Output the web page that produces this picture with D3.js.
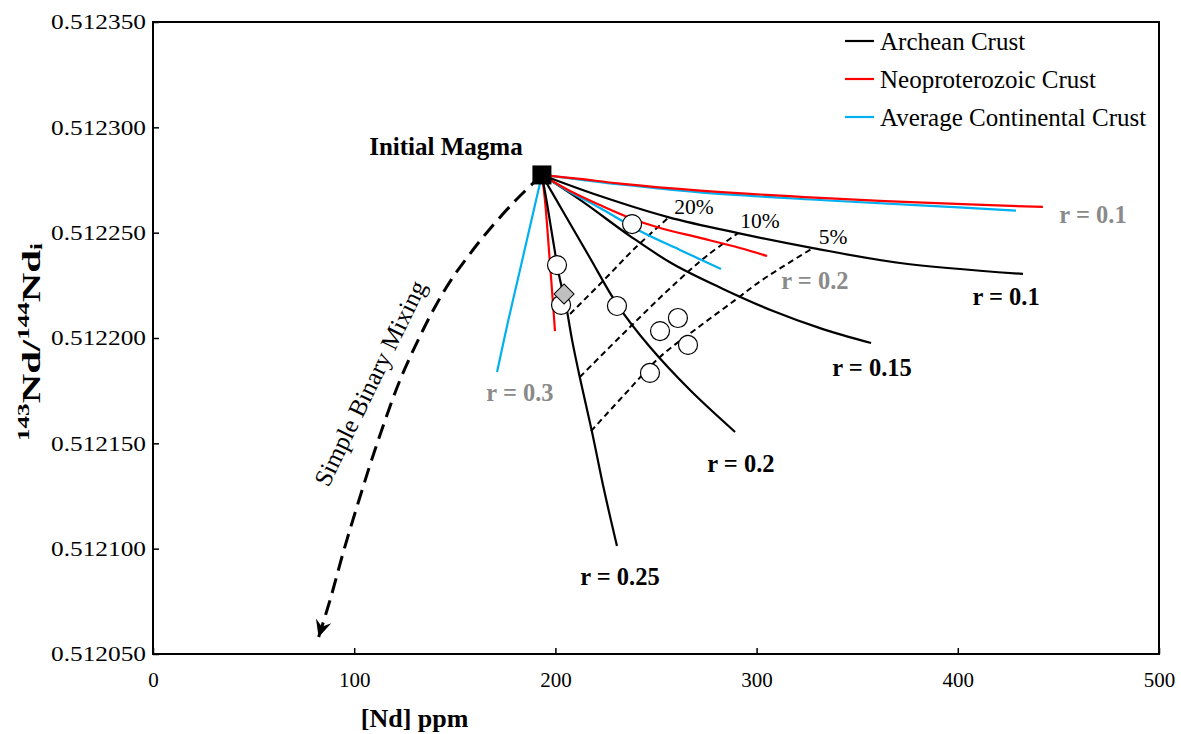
<!DOCTYPE html>
<html>
<head>
<meta charset="utf-8">
<script src="https://cdn.jsdelivr.net/npm/d3@7"></script>
<style>
  body { margin: 0; background: #fff; }
  text { font-family: "Liberation Serif", "Times New Roman", serif; }
</style>
</head>
<body>
<svg id="chart" width="1181" height="734"></svg>
<script>
// ---- axis ticks ----
const xTicks = [0, 100, 200, 300, 400, 500];
const yTicks = [0.51205, 0.5121, 0.51215, 0.5122, 0.51225, 0.5123, 0.51235];

// ---- starting composition ([Nd] ppm, 143Nd/144Nd) ----
const initialMagma = [193.3, 0.5122774];

// ---- AFC trajectories, Archean crust contaminant ----
const archeanR01 = [[193.3,0.5122774],[222.2,0.5122674],[256.0,0.5122574],[290.8,0.5122498],[328.0,0.5122427],[371.3,0.5122356],[432.4,0.5122304]];
const archeanR015 = [[193.3,0.5122774],[213.7,0.5122646],[237.1,0.5122484],[258.4,0.5122351],[283.3,0.5122233],[308.2,0.5122128],[331.5,0.5122047],[356.9,0.5121976]];
const archeanR02 = [[193.3,0.5122774],[204.8,0.5122584],[217.2,0.5122380],[230.6,0.5122161],[247.0,0.5121957],[266.9,0.5121753],[289.3,0.5121554]];
const archeanR025 = [[193.3,0.5122774],[195.8,0.5122641],[198.8,0.5122465],[201.8,0.5122299],[205.3,0.5122152],[208.3,0.5121990],[212.2,0.5121810],[218.2,0.5121554],[224.2,0.5121278],[230.6,0.5121013]];

// ---- AFC trajectories, Neoproterozoic crust contaminant ----
const neoR01 = [[193.3,0.5122774],[212.2,0.5122755],[232.1,0.5122733],[271.9,0.5122700],[331.5,0.5122665],[386.2,0.5122641],[442.3,0.5122622]];
const neoR02 = [[193.3,0.5122774],[207.3,0.5122698],[222.2,0.5122631],[237.1,0.5122570],[252.0,0.5122522],[271.9,0.5122475],[291.7,0.5122427],[305.2,0.5122389]];
const neoR03 = [[193.3,0.5122774],[194.8,0.5122655],[196.8,0.5122418],[198.3,0.5122228],[199.8,0.5122033]];

// ---- AFC trajectories, average continental crust contaminant ----
const avgR01 = [[193.3,0.5122774],[212.2,0.5122752],[232.1,0.5122729],[271.9,0.5122691],[331.5,0.5122655],[386.2,0.5122627],[428.9,0.5122605]];
const avgR02 = [[193.3,0.5122774],[207.3,0.5122693],[222.2,0.5122617],[242.0,0.5122508],[261.9,0.5122418],[282.3,0.5122328]];
const avgR03 = [[193.3,0.5122774],[187.9,0.5122551],[182.4,0.5122323],[176.4,0.5122076],[171.0,0.5121839]];

// ---- melt-fraction isopleths ----
const melt20 = [[207.3,0.5122114],[223.7,0.5122271],[239.6,0.5122427],[256.0,0.5122570]];
const melt10 = [[212.2,0.5121815],[236.1,0.5122043],[260.9,0.5122271],[275.8,0.5122394],[290.8,0.5122498]];
const melt5 = [[217.7,0.5121558],[234.6,0.5121734],[252.0,0.5121910],[271.9,0.5122057],[289.3,0.5122180],[302.7,0.5122275],[328.0,0.5122427]];

// ---- simple binary mixing trend ----
const mixing = [[193.3,0.5122774],[180.4,0.5122655],[167.0,0.5122513],[157.1,0.5122394],[148.1,0.5122275],[140.7,0.5122157],[134.2,0.5122038],[122.8,0.5121801],[110.3,0.5121468],[102.4,0.5121231],[94.9,0.5120994],[88.0,0.5120756],[82.3,0.5120580]];

// ---- measured samples ----
const samples = [[238.1,0.5122541],[200.8,0.5122346],[202.8,0.5122157],[230.6,0.5122152],[252.0,0.5122033],[260.9,0.5122095],[265.9,0.5121967],[247.0,0.5121834]];
const diamondSample = [204.3, 0.5122209];

// ---- legend entries ----
const legendNames = ["Archean Crust", "Neoproterozoic Crust", "Average Continental Crust"];
const legendColors = ["#000000", "#ff0000", "#00b0f0"];

const svg = d3.select("#chart");
const W = 1181, H = 734;
const margin = { left: 153, right: 22, top: 22, bottom: 80 };

const x = d3.scaleLinear().domain([0, 500]).range([margin.left, W - margin.right]);
const y = d3.scaleLinear().domain([0.51205, 0.51235]).range([H - margin.bottom, margin.top]);

svg.append("rect").attr("width", W).attr("height", H).attr("fill", "#fff");

const line = d3.line().x(d => x(d[0])).y(d => y(d[1])).curve(d3.curveCatmullRom.alpha(0.5));

// axes with inward ticks
const xAxis = svg.append("g")
  .attr("transform", `translate(0,${y(0.51205)})`)
  .call(d3.axisBottom(x).tickValues(xTicks).tickFormat(d3.format("d")).tickSizeInner(-6).tickSizeOuter(0).tickPadding(18));
const yAxis = svg.append("g")
  .attr("transform", `translate(${x(0)},0)`)
  .call(d3.axisLeft(y).tickValues(yTicks).tickFormat(d3.format(".6f")).tickSizeInner(-6).tickSizeOuter(0).tickPadding(7));
[xAxis, yAxis].forEach(g => {
  g.select(".domain").remove();
  g.selectAll(".tick line").attr("stroke", "#000").attr("stroke-width", 1.5);
  g.selectAll(".tick text").attr("font-family", "Liberation Serif").attr("font-size", 21).attr("fill", "#000");
});
yAxis.selectAll(".tick text").attr("textLength", 95).attr("lengthAdjust", "spacingAndGlyphs");

// plot frame
svg.append("rect")
  .attr("x", x(0)).attr("y", y(0.51235))
  .attr("width", x(500) - x(0)).attr("height", y(0.51205) - y(0.51235))
  .attr("fill", "none").attr("stroke", "#000").attr("stroke-width", 2);

// binary mixing trend with arrowhead
svg.append("path").datum(mixing)
  .attr("d", line).attr("fill", "none").attr("stroke", "#000")
  .attr("stroke-width", 3).attr("stroke-dasharray", "15,8");
{
  const n = mixing.length;
  const tip = [x(mixing[n - 1][0]), y(mixing[n - 1][1])];
  const prev = [x(mixing[n - 2][0]), y(mixing[n - 2][1])];
  const ang = Math.atan2(tip[1] - prev[1], tip[0] - prev[0]) * 180 / Math.PI;
  svg.append("path")
    .attr("d", "M0,0 L-17,-8 L-11,0 L-17,8 Z")
    .attr("transform", `translate(${tip[0]},${tip[1]}) rotate(${ang})`)
    .attr("fill", "#000");
}

// melt fraction isopleths
[melt20, melt10, melt5].forEach(d => {
  svg.append("path").datum(d).attr("d", line)
    .attr("fill", "none").attr("stroke", "#000").attr("stroke-width", 2)
    .attr("stroke-dasharray", "6,4");
});

// AFC curves
const curves = [
  [avgR03, legendColors[2]], [neoR03, legendColors[1]],
  [archeanR025, legendColors[0]], [archeanR02, legendColors[0]], [archeanR015, legendColors[0]],
  [avgR02, legendColors[2]], [neoR02, legendColors[1]], [archeanR01, legendColors[0]],
  [avgR01, legendColors[2]], [neoR01, legendColors[1]]
];
curves.forEach(([d, c]) => {
  svg.append("path").datum(d).attr("d", line)
    .attr("fill", "none").attr("stroke", c).attr("stroke-width", 2.2);
});

// samples
svg.append("g").selectAll("circle").data(samples).join("circle")
  .attr("cx", d => x(d[0])).attr("cy", d => y(d[1])).attr("r", 9.5)
  .attr("fill", "#fff").attr("stroke", "#000").attr("stroke-width", 1.2);
svg.append("path")
  .attr("d", d3.symbol(d3.symbolSquare, 200)())
  .attr("transform", `translate(${x(diamondSample[0])},${y(diamondSample[1])}) rotate(45)`)
  .attr("fill", "#bfbfbf").attr("stroke", "#000").attr("stroke-width", 1);

// initial magma
svg.append("rect")
  .attr("x", x(initialMagma[0]) - 9.5).attr("y", y(initialMagma[1]) - 9.5)
  .attr("width", 19).attr("height", 19).attr("fill", "#000");

// annotations
const ann = (t, px, py, opts = {}) => svg.append("text")
  .attr("x", x(px)).attr("y", y(py))
  .attr("text-anchor", "middle").attr("dominant-baseline", "central")
  .attr("font-size", opts.size || 24.5).attr("font-weight", opts.bold ? "bold" : "normal")
  .attr("fill", opts.fill || "#000").text(t);

const gray = "#8a8a8a";
ann("Initial Magma", 145.6, 0.5122907, { bold: true, size: 25 });
ann("r = 0.1", 467.2, 0.5122584, { bold: true, fill: gray });
ann("r = 0.1", 424.0, 0.5122199, { bold: true });
ann("r = 0.2", 329.0, 0.5122271, { bold: true, fill: gray });
ann("r = 0.15", 357.4, 0.5121858, { bold: true });
ann("r = 0.2", 292.2, 0.5121402, { bold: true });
ann("r = 0.25", 232.1, 0.5120870, { bold: true });
ann("r = 0.3", 182.4, 0.5121739, { bold: true, fill: gray });
ann("20%", 268.9, 0.5122622, { size: 21.5 });
ann("10%", 301.7, 0.5122555, { size: 21.5 });
ann("5%", 338.0, 0.5122479, { size: 21.5 });

svg.append("text")
  .attr("transform", `translate(${x(107.9)},${y(0.5121786)}) rotate(-64)`)
  .attr("text-anchor", "middle").attr("dominant-baseline", "central")
  .attr("font-size", 25).text("Simple Binary Mixing");

// legend
const leg = svg.append("g");
legendNames.forEach((name, i) => {
  const ly = 41 + i * 38;
  leg.append("line").attr("x1", 845).attr("x2", 874).attr("y1", ly).attr("y2", ly)
    .attr("stroke", legendColors[i]).attr("stroke-width", 2.2);
  leg.append("text").attr("x", 880).attr("y", ly).attr("dominant-baseline", "central")
    .attr("font-size", 25).text(name);
});

// axis titles
svg.append("text").attr("x", x(130)).attr("y", 718)
  .attr("text-anchor", "middle").attr("dominant-baseline", "central")
  .attr("font-size", 26).attr("font-weight", "bold").text("[Nd] ppm");

const yt = svg.append("text")
  .attr("transform", `translate(31,${(y(0.51235) + y(0.51205)) / 2 + 4}) rotate(-90)`)
  .attr("text-anchor", "middle").attr("dominant-baseline", "central")
  .attr("font-size", 26).attr("font-weight", "bold")
  .attr("textLength", 198).attr("lengthAdjust", "spacingAndGlyphs");
yt.append("tspan").attr("font-size", 16).attr("dy", -8).text("143");
yt.append("tspan").attr("dy", 8).text("Nd/");
yt.append("tspan").attr("font-size", 16).attr("dy", -8).text("144");
yt.append("tspan").attr("dy", 8).text("Nd");
yt.append("tspan").attr("font-size", 16).attr("dy", 5).text("i");
</script>
</body>
</html>
